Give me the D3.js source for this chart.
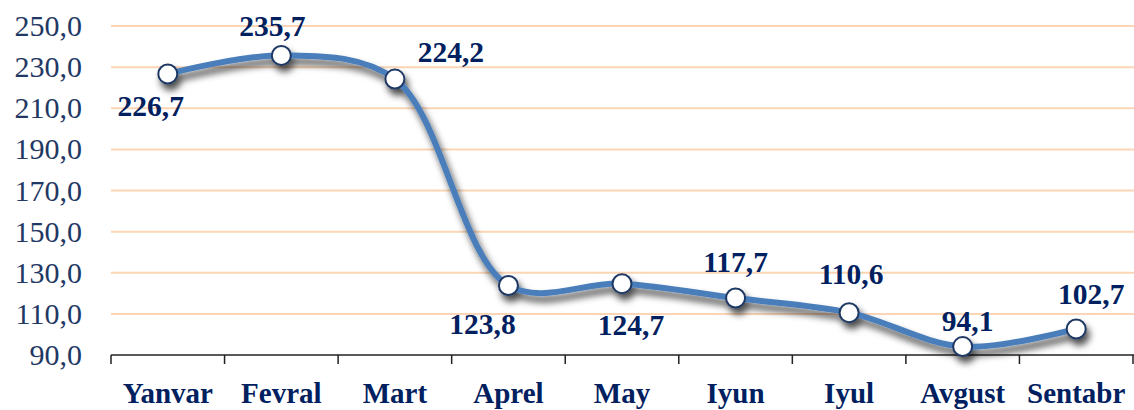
<!DOCTYPE html>
<html>
<head>
<meta charset="utf-8">
<script src="https://cdn.jsdelivr.net/npm/d3@7"></script>
<style>
  html, body { margin: 0; padding: 0; background: #fff; }
  #chart { width: 1134px; height: 410px; }
  svg text { font-family: "Times New Roman", "Liberation Serif", "DejaVu Serif", Times, serif; }
  .ytick { font-size: 30px; fill: #1f3864; }
  .xlab { font-size: 29px; font-weight: bold; fill: #002060; }
  .vlab { font-size: 29.5px; font-weight: bold; fill: #002060; }
</style>
</head>
<body>
<div id="chart"></div>
<script>
// data
let months = ["Yanvar", "Fevral", "Mart", "Aprel", "May", "Iyun", "Iyul", "Avgust", "Sentabr"];
let values = [226.7, 235.7, 224.2, 123.8, 124.7, 117.7, 110.6, 94.1, 102.7];
let yTicks = [90, 110, 130, 150, 170, 190, 210, 230, 250];

// where each value label sits relative to its point (dx, dy)
let labelOffsets = [[-17, 42], [-9, -19], [56, -17], [-26, 49], [9, 51], [0, -26], [2, -29], [5, -16], [15, -25]];

let width = 1134, height = 410;
let fmt = v => d3.format(".1f")(v).replace(".", ",");

let svg = d3.select("#chart").append("svg")
    .attr("width", width)
    .attr("height", height);

let defs = svg.append("defs");
let shadow = defs.append("filter")
    .attr("id", "shadow")
    .attr("x", "-20%").attr("y", "-20%")
    .attr("width", "140%").attr("height", "160%");
shadow.append("feDropShadow")
    .attr("dx", 3).attr("dy", 6)
    .attr("stdDeviation", 3.5)
    .attr("flood-color", "#000")
    .attr("flood-opacity", 0.7);

let x = d3.scaleBand().domain(months).range([111, 1133]).padding(0);
let y = d3.scaleLinear().domain([90, 250]).range([355, 26]);

// gridlines
svg.selectAll(".grid").data(yTicks.filter(t => t > 90))
    .enter().append("line")
    .attr("x1", 111).attr("x2", width)
    .attr("y1", d => y(d)).attr("y2", d => y(d))
    .attr("stroke", "#fbd5b5")
    .attr("stroke-width", 2);

// y labels
svg.selectAll(".ytick").data(yTicks)
    .enter().append("text")
    .attr("class", "ytick")
    .attr("x", 82)
    .attr("y", d => y(d) + 10)
    .attr("text-anchor", "end")
    .text(d => fmt(d));

// x axis line + ticks at band edges
svg.append("line")
    .attr("x1", 111).attr("x2", 1134)
    .attr("y1", y(90)).attr("y2", y(90))
    .attr("stroke", "#222").attr("stroke-width", 1.5);

let edges = months.map(m => x(m)).concat([x.range()[1]]);
svg.selectAll(".xtick").data(edges)
    .enter().append("line")
    .attr("x1", d => d).attr("x2", d => d)
    .attr("y1", y(90)).attr("y2", y(90) + 9)
    .attr("stroke", "#222").attr("stroke-width", 1.5);

svg.selectAll(".xlab").data(months)
    .enter().append("text")
    .attr("class", "xlab")
    .attr("x", d => x(d) + x.bandwidth() / 2)
    .attr("y", 403)
    .attr("text-anchor", "middle")
    .text(d => d);

// line
let line = d3.line()
    .x((d, i) => x(months[i]) + x.bandwidth() / 2)
    .y(d => y(d))
    .curve(d3.curveCatmullRom.alpha(0.5));

let g = svg.append("g").attr("filter", "url(#shadow)");
g.append("path")
    .datum(values)
    .attr("d", line)
    .attr("fill", "none")
    .attr("stroke", "#4a7ebb")
    .attr("stroke-width", 6)
    .attr("stroke-linecap", "round");

g.selectAll("circle").data(values)
    .enter().append("circle")
    .attr("cx", (d, i) => x(months[i]) + x.bandwidth() / 2)
    .attr("cy", d => y(d))
    .attr("r", 9.5)
    .attr("fill", "#fff")
    .attr("stroke", "#1f3864")
    .attr("stroke-width", 2);

// value labels
svg.selectAll(".vlab").data(values)
    .enter().append("text")
    .attr("class", "vlab")
    .attr("x", (d, i) => x(months[i]) + x.bandwidth() / 2 + labelOffsets[i][0])
    .attr("y", (d, i) => y(d) + labelOffsets[i][1])
    .attr("text-anchor", "middle")
    .text(d => fmt(d));
</script>
</body>
</html>
